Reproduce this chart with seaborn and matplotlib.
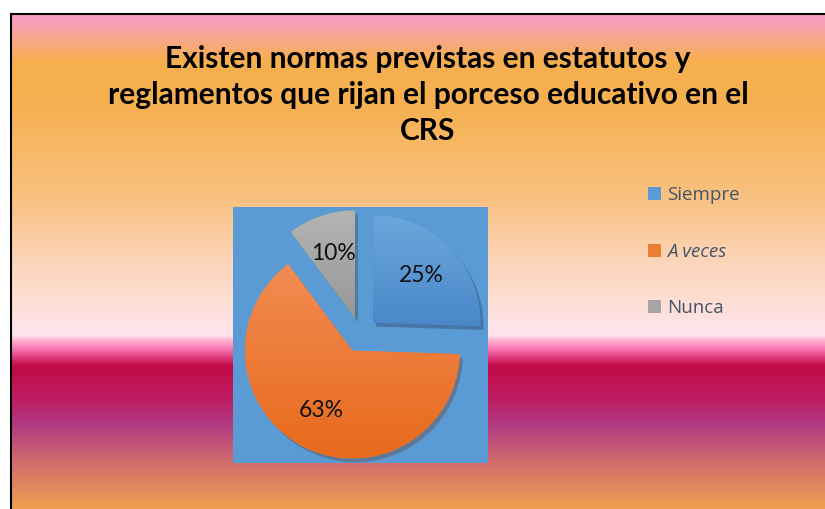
import numpy as np
import matplotlib
matplotlib.use("Agg")
import matplotlib.pyplot as plt
import seaborn as sns
from matplotlib.colors import to_rgb
from matplotlib.patches import Patch, Rectangle

## chart data
categories = ["Siempre", "A veces", "Nunca"]
values = [25, 63, 10]
title = "Existen normas previstas en estatutos y\nreglamentos que rijan el porceso educativo en el\nCRS"

## style
slice_top = ["#6CA6DD", "#F28C52", "#B4B4B4"]
slice_bottom = ["#4A88C9", "#E8691C", "#979797"]
legend_colors = ["#5B9BD5", "#ED7D31", "#A5A5A5"]

sns.set_theme(style="white")
plt.rcParams["font.family"] = ["Lato", "DejaVu Sans"]

W, H = 825, 509
fig = plt.figure(figsize=(W / 100, H / 100), dpi=100)
fig.patch.set_facecolor("white")

## background gradient (top -> bottom), stops in pixel rows
stops = [(15, "#FA9CCA"), (35, "#F8A696"), (60, "#F7AF4F"), (110, "#F6B152"),
         (200, "#F9C283"), (260, "#FCD4B8"), (300, "#FDDED3"), (336, "#FFE4EE"),
         (340, "#FFB6D4"), (346, "#FC8CBF"), (352, "#F066A2"), (358, "#DD3A7C"),
         (366, "#C40A47"), (400, "#BC1D62"), (425, "#B23A83"), (460, "#CF6A6E"),
         (509, "#EFA050")]
rows = np.arange(15, 510)
sy = [s[0] for s in stops]
grad = np.stack([np.interp(rows, sy, [to_rgb(c)[i] for _, c in stops]) for i in range(3)], axis=-1)
bg = fig.add_axes([11 / W, 0, 1 - 11 / W, (H - 15) / H])
bg.imshow(grad[:, None, :], aspect="auto", interpolation="nearest", extent=[0, 1, 0, 1])
bg.set_axis_off()
fig.add_artist(Rectangle((10.5 / W, -0.1), 1.2, (H - 14.5) / H + 0.1, transform=fig.transFigure,
                         facecolor="none", edgecolor="black", linewidth=1.5, zorder=5))

## title
fig.text(428 / W, 1 - 95 / H, title, ha="center", va="center", fontsize=21.5,
         fontweight="bold", color="black", linespacing=1.34)

## pie
ax = fig.add_axes([233 / W, (H - 463) / H, 255 / W, 256 / H])
total = sum(values)
wedges, texts, autotexts = ax.pie(
    values, startangle=90, counterclock=False, explode=[0.16] * 3, frame=True,
    radius=0.98, autopct=lambda p: f"{p * total / 100:.0f}%", pctdistance=0.63,
    wedgeprops={"linewidth": 0, "edgecolor": "none"},
    shadow={"ox": 0.02, "oy": -0.025, "shade": 0.55, "alpha": 0.35},
    textprops={"fontsize": 16.5, "color": "#111111"})
for w, c1, c2 in zip(wedges, slice_top, slice_bottom):
    x0, y0, x1, y1 = w.get_window_extent().transformed(ax.transData.inverted()).extents
    g = np.linspace(0, 1, 64)[:, None, None] * (np.array(to_rgb(c2)) - np.array(to_rgb(c1))) + np.array(to_rgb(c1))
    im = ax.imshow(g, extent=[x0, x1, y0, y1], aspect="auto", zorder=w.get_zorder() + 0.1)
    im.set_clip_path(w)
for t in autotexts:
    t.set_zorder(10)
lim = 1.163
ax.set_xlim(-lim, lim)
ax.set_ylim(-lim, lim)
ax.set_facecolor("#5B9BD5")
ax.set_xticks([])
ax.set_yticks([])
sns.despine(ax=ax, left=True, bottom=True)

## legend
handles = [Patch(facecolor=c, edgecolor="none") for c in legend_colors]
leg = fig.legend(handles, categories, loc="upper left", bbox_to_anchor=(648 / W, 1 - 186 / H),
                 frameon=False, fontsize=13.5, handlelength=0.7, handleheight=0.7,
                 handletextpad=0.3, labelspacing=2.06, borderpad=0, borderaxespad=0)
for t in leg.get_texts():
    t.set_color("#44546A")
    t.set_family(["Open Sans", "DejaVu Sans"])
leg.get_texts()[1].set_style("italic")

fig.savefig("out.png", dpi=100)
